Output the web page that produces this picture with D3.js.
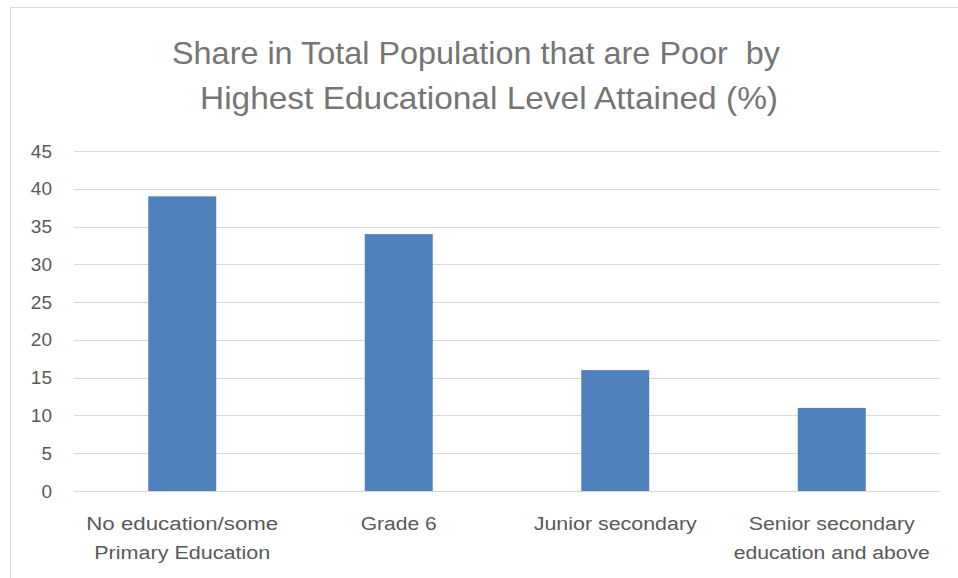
<!DOCTYPE html>
<html>
<head>
<meta charset="utf-8">
<script src="https://cdn.jsdelivr.net/npm/d3@7"></script>
<style>
html,body{margin:0;padding:0;background:#fff;}
svg{display:block;font-family:"Liberation Sans","Noto Sans",sans-serif;}
</style>
</head>
<body>
<svg id="chart" width="958" height="578"></svg>
<script>
// Data
const categories = [["No education/some","Primary Education"],["Grade 6"],["Junior secondary"],["Senior secondary","education and above"]];
const values = [39, 34, 16, 11];
const yTicks = [0,5,10,15,20,25,30,35,40,45];
const titleLines = ["Share in Total Population that are Poor  by","Highest Educational Level Attained (%)"];

// approximate rendered widths of text in the reference (Calibri-like narrow face)
const titleWidths = [608, 578];
const catWidths = [[192,176],[76],[163],[166,196]];

const svg = d3.select("#chart");

// chart border
svg.append("rect").attr("x",10.5).attr("y",7.5).attr("width",970).attr("height",600)
  .attr("fill","#fff").attr("stroke","#d9d9d9").attr("stroke-width",1);

const plot = {left:74, right:940, top:151, bottom:491};

const x = d3.scaleBand().domain(d3.range(categories.length))
  .range([plot.left, plot.right]).paddingInner(0.686).paddingOuter(0.343);
const y = d3.scaleLinear().domain([0,45]).range([plot.bottom, plot.top]);

// gridlines
svg.append("g").selectAll("line").data(yTicks).join("line")
  .attr("x1",plot.left).attr("x2",plot.right)
  .attr("y1",d=>Math.round(y(d))+0.5).attr("y2",d=>Math.round(y(d))+0.5)
  .attr("stroke","#d9d9d9").attr("stroke-width",1);

// y axis labels
const yAxis = d3.axisLeft(y).tickValues(yTicks).tickSize(0).tickPadding(0);
const gy = svg.append("g").attr("transform",`translate(52,0)`).call(yAxis);
gy.select(".domain").remove();
gy.selectAll("text").attr("font-size",19).attr("fill","#595959")
  .attr("font-family","'Liberation Sans','Noto Sans',sans-serif");

// bars
svg.append("g").selectAll("rect").data(values).join("rect")
  .attr("x",(d,i)=>x(i)).attr("width",x.bandwidth())
  .attr("y",d=>y(d)).attr("height",d=>y(0)-y(d))
  .attr("fill","#4f81bd");

// category labels
const cg = svg.append("g");
categories.forEach((lines,i)=>{
  const cx = x(i)+x.bandwidth()/2;
  lines.forEach((ln,j)=>{
    cg.append("text").attr("x",cx).attr("y",530+j*29)
      .attr("text-anchor","middle").attr("font-size",18).attr("fill","#595959")
      .attr("textLength",catWidths[i][j]).attr("lengthAdjust","spacingAndGlyphs")
      .text(ln);
  });
});

// title
const titleCenters = [476, 489];
titleLines.forEach((t,i)=>{
  svg.append("text").attr("x",titleCenters[i]).attr("y",64+i*45)
    .attr("text-anchor","middle").attr("font-size",32).attr("fill","#757575")
    .attr("textLength",titleWidths[i]).attr("lengthAdjust","spacingAndGlyphs")
    .style("white-space","pre")
    .text(t);
});
</script>
</body>
</html>
